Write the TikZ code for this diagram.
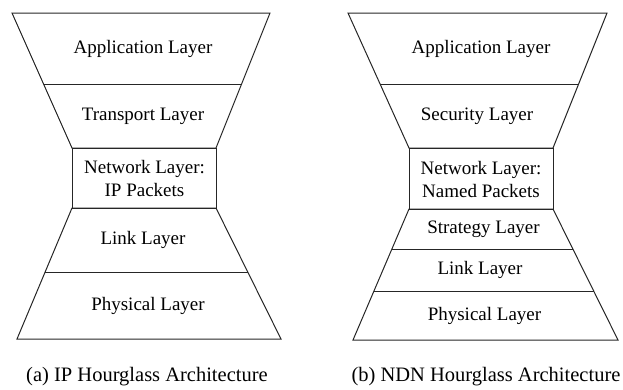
\documentclass[tikz,border=0pt]{standalone}
\usepackage{fontspec}
\setmainfont{Liberation Serif}
\begin{document}
\begin{tikzpicture}[x=1pt,y=-1pt,
  edge/.style={line width=1pt, draw=black!85, line join=miter},
  lbl/.style={font=\fontsize{19}{23}\selectfont, align=center, inner sep=0pt},
  captxt/.style={font=\fontsize{20.5}{24}\selectfont, inner sep=0pt}]
\useasboundingbox (0,0) rectangle (623,389);
% ---------- (a) IP hourglass ----------
\draw[edge] (12,13) -- (270,13) -- (216,148) -- (72,148) -- cycle;
\draw[edge] (43.6,84) -- (241.6,84);
\draw[edge] (72,148) rectangle (216,208);
\draw[edge] (72,208) -- (216,208) -- (281,339) -- (17,339) -- cycle;
\draw[edge] (45.1,272) -- (247.8,272);
\node[lbl] (a1) at (143,48.5) {Application Layer};
\node[lbl] (a2) at (143,116) {Transport Layer};
\node[lbl] (a3) at (144.5,178) {Network Layer:\\IP Packets};
\node[lbl] (a4) at (143,240) {Link Layer};
\node[lbl] (a5) at (148,305.5) {Physical Layer};
\node[captxt] (ca) at (147,377) {(a) IP Hourglass Architecture};
% ---------- (b) NDN hourglass ----------
\draw[edge] (348,13) -- (607,13) -- (553,148) -- (409,148) -- cycle;
\draw[edge] (380.1,84) -- (578.6,84);
\draw[edge] (409,148) rectangle (553,209);
\draw[edge] (409,209) -- (553,209) -- (618,340) -- (353,340) -- cycle;
\draw[edge] (391.9,249) -- (572.8,249);
\draw[edge] (373.9,291) -- (593.7,291);
\node[lbl] (b1) at (481,48.5) {Application Layer};
\node[lbl] (b2) at (477,116) {Security Layer};
\node[lbl] (b3) at (481,179) {Network Layer:\\Named Packets};
\node[lbl] (b4) at (483.5,229) {Strategy Layer};
\node[lbl] (b5) at (480,270) {Link Layer};
\node[lbl] (b6) at (484.5,315.5) {Physical Layer};
\node[captxt] (cb) at (486,377) {(b) NDN Hourglass Architecture};
\end{tikzpicture}
\end{document}
